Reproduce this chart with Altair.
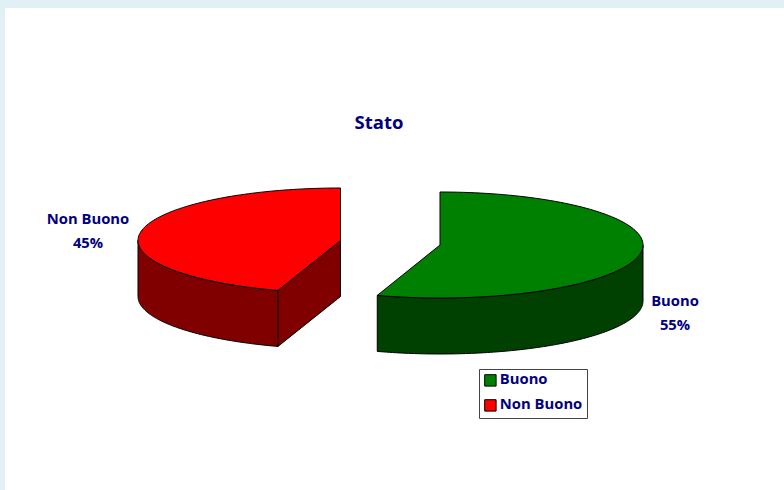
import numpy as np
import pandas as pd
import altair as alt

# Slice names, shares (percent) and colours
slices = ["Buono", "Non Buono"]
shares = [55, 45]
top_colors = ["#008000", "#FF0000"]
wall_colors = ["#004000", "#800000"]

NAVY = "#000080"
FONT = "Open Sans"
W, H = 784, 490

# Exploded pie geometry, drawn in page-sized scales
centers = {"Buono": (440, 245), "Non Buono": (340.5, 240.5)}
RX, RY = 203, 53
DEPTH = 56


def rim(name, a0, a1, drop=0):
    """Points along the elliptical rim, angles clockwise from twelve o'clock."""
    cx, cy = centers[name]
    rx = RX if name == "Buono" else RX - 0.5
    ry = RY if name == "Buono" else RY - 0.5
    t = np.radians(np.linspace(a0, a1, 121))
    return list(zip(cx + rx * np.sin(t), cy - ry * np.cos(t) + drop))


def frame(points, name, part):
    return pd.DataFrame(
        [{"x": x, "y": y, "i": i, "slice": name, "part": part} for i, (x, y) in enumerate(points)]
    )


split = 360 * shares[0] / 100
apex_g = centers["Buono"]
apex_r = centers["Non Buono"]

top_g = frame([apex_g] + rim("Buono", 0, split) + [apex_g], "Buono", "top")
top_r = frame([apex_r] + rim("Non Buono", split, 360) + [apex_r], "Non Buono", "top")


def side(name, a0, a1):
    upper = rim(name, a0, a1)
    lower = rim(name, a0, a1, DEPTH)[::-1]
    return frame(upper + lower + [upper[0]], name, "side")


wall_g = side("Buono", 90, split)
wall_r = side("Non Buono", split, 270)
end_pt = rim("Non Buono", split, split)[0]
cut_r = frame(
    [apex_r, end_pt, (end_pt[0], end_pt[1] + DEPTH), (apex_r[0], apex_r[1] + DEPTH), apex_r],
    "Non Buono",
    "cut",
)

x_enc = alt.X("x:Q", scale=alt.Scale(domain=[0, W], range=[0, W]), axis=None)
y_enc = alt.Y("y:Q", scale=alt.Scale(domain=[0, H], range=[0, H]), axis=None)


def face(df, fill):
    return (
        alt.Chart(df)
        .mark_line(fill=fill, stroke="black", strokeWidth=1, strokeJoin="miter", clip=False)
        .encode(x=x_enc, y=y_enc, order="i:Q")
    )


panel = alt.Chart(pd.DataFrame({"a": [0]})).mark_rect(fill="white").encode(
    x=alt.value(5), x2=alt.value(W), y=alt.value(8), y2=alt.value(H)
)

legend = alt.Legend(
    title=None,
    orient="none",
    legendX=479,
    legendY=369,
    padding=4,
    fillColor="white",
    strokeColor="#444444",
    symbolType="square",
    symbolSize=130,
    symbolStrokeColor="black",
    symbolStrokeWidth=1,
    labelFont=FONT,
    labelFontWeight="bold",
    labelFontSize=14.8,
    labelColor=NAVY,
    rowPadding=8,
    labelOffset=2,
    labelLimit=200,
)

tops = (
    alt.Chart(pd.concat([top_g, top_r]))
    .mark_line(stroke="black", strokeWidth=1, strokeJoin="miter", clip=False)
    .encode(
        x=x_enc,
        y=y_enc,
        order="i:Q",
        detail="slice:N",
        fill=alt.Fill("slice:N", scale=alt.Scale(domain=slices, range=top_colors), legend=legend),
    )
)

label_at = {"Non Buono": (88, 220), "Buono": (675, 302)}
value_gap = 24


def slice_label(name, share):
    x, y = label_at[name]
    df = pd.DataFrame({"name": [name], "pct": [f"{share}%"]})
    base = alt.Chart(df).mark_text(
        font=FONT, fontWeight="bold", fontSize=14.8, color=NAVY, align="center", baseline="middle"
    )
    return base.encode(x=alt.value(x), y=alt.value(y), text="name:N") + base.encode(
        x=alt.value(x), y=alt.value(y + value_gap), text="pct:N"
    )


chart = (
    alt.layer(
        panel,
        face(wall_r, wall_colors[1]),
        face(cut_r, wall_colors[1]),
        face(wall_g, wall_colors[0]),
        tops,
        slice_label(slices[0], shares[0]),
        slice_label(slices[1], shares[1]),
    )
    .properties(
        width=W,
        height=H,
        padding=0,
        autosize=alt.AutoSizeParams(type="none"),
        background="#E0F0F5",
        title=alt.TitleParams(
            "Stato",
            font=FONT,
            fontWeight="bold",
            fontSize=18.5,
            color=NAVY,
            anchor="middle",
            dx=-13,
            dy=136,
        ),
    )
    .configure_view(stroke=None)
)

chart.save("out.html", embed_options={"renderer": "svg", "actions": False})
